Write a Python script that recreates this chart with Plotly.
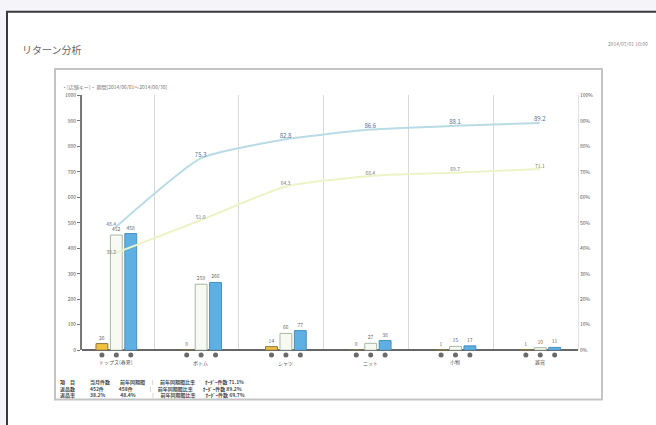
import plotly.graph_objects as go

W, H = 656, 425

categories = ["トップス(春夏)", "ボトム", "シャツ", "ニット", "小物", "雑貨"]
prev_qty = [26, 0, 14, 0, 1, 1]
return_qty = [452, 259, 66, 27, 15, 10]
order_qty = [458, 266, 77, 38, 17, 11]
cum_ratio_a = [48.4, 75.3, 82.8, 86.6, 88.1, 89.2]
cum_ratio_b = [38.2, 51.0, 64.3, 68.4, 69.7, 71.1]
left_ticks = [0, 100, 200, 300, 400, 500, 600, 700, 800, 900, 1000]
right_ticks = [0, 10, 20, 30, 40, 50, 60, 70, 80, 90, 100]

FONT = "Noto Sans CJK JP"
xs = list(range(len(categories)))

fig = go.Figure()

icon_y = (H - 357) / H
bar_specs = [
    (prev_qty, "#f0c040", "#8a7a40", -0.235),
    (return_qty, "#f6faf2", "#a8b8a0", -0.065),
    (order_qty, "#5fb0e2", "#4a8fbf", 0.105),
]
for vals, fill, edge, off in bar_specs:
    fig.add_trace(go.Bar(
        x=xs, y=vals, width=0.14, offset=off,
        marker=dict(color=fill, line=dict(color=edge, width=1)),
        text=[str(v) for v in vals], textposition="outside",
        textfont=dict(size=5, color="#666", family=FONT),
        cliponaxis=False, showlegend=False,
    ))
    # small icons under each bar
    fig.add_trace(go.Scatter(
        x=[x + off + 0.07 for x in xs], y=[icon_y] * len(xs),
        xaxis="x2", yaxis="y3",
        mode="markers", marker=dict(size=5, color="#6a6a6a"),
        cliponaxis=False, showlegend=False, hoverinfo="skip",
    ))

pos_a = ["top left"] + ["top center"] * 5
pos_b = ["middle left"] + ["top center"] * 5
fig.add_trace(go.Scatter(
    x=xs, y=cum_ratio_a, yaxis="y2", mode="lines+text",
    line=dict(color="#b9dbe6", width=2, shape="spline", smoothing=0.5),
    text=[f"{v:.1f}" for v in cum_ratio_a], textposition=pos_a,
    textfont=dict(size=[5, 6, 6, 6, 6, 6], color="#55739a", family=FONT),
    showlegend=False,
))
fig.add_trace(go.Scatter(
    x=xs, y=cum_ratio_b, yaxis="y2", mode="lines+text",
    line=dict(color="#eef3c6", width=2, shape="spline", smoothing=0.5),
    text=[f"{v:.1f}" for v in cum_ratio_b], textposition=pos_b,
    textfont=dict(size=5, color="#777", family=FONT), showlegend=False,
))

for i, c in enumerate(categories):
    fig.add_annotation(x=i, y=1 - 364 / H, xref="x", yref="paper", yanchor="middle",
                       text=c, showarrow=False,
                       font=dict(size=5, color="#555", family=FONT))

x0p, x1p = 82 / W, 578 / W
yd0, yd1 = (H - 352) / H, (H - 93) / H

fig.update_layout(
    width=W, height=H, margin=dict(l=0, r=0, t=0, b=0),
    paper_bgcolor="#f5f5f9", plot_bgcolor="rgba(0,0,0,0)",
    font=dict(family=FONT, size=6, color="#555"),
    barmode="overlay",
    xaxis=dict(domain=[x0p, x1p], range=[-0.4, 5.45],
               tickvals=[i + 0.45 for i in range(5)], showticklabels=False,
               ticks="", showgrid=True, gridcolor="#d8d8d8", gridwidth=1,
               zeroline=False, showline=False),
    xaxis2=dict(overlaying="x", range=[-0.4, 5.45], visible=False,
                showgrid=False, zeroline=False),
    yaxis=dict(domain=[yd0, yd1], range=[0, 1000], tickvals=left_ticks,
               ticktext=[str(v) for v in left_ticks], showgrid=False,
               showline=True, linecolor="#777", linewidth=2, ticks="outside",
               ticklen=3, tickcolor="#777", tickfont=dict(size=5, color="#555"),
               zeroline=True, zerolinecolor="#666", zerolinewidth=2),
    yaxis2=dict(overlaying="y", side="right", range=[0, 100], tickvals=right_ticks,
                ticktext=[f"{v}%" for v in right_ticks], showgrid=False,
                showline=True, linecolor="#e0e0e0", linewidth=1, ticks="",
                tickfont=dict(size=5, color="#555"), zeroline=False),
    yaxis3=dict(domain=[0, 1], range=[0, 1], anchor="x2", visible=False,
                showgrid=False, zeroline=False),
    shapes=[
        dict(type="rect", xref="paper", yref="paper", x0=7 / W, x1=1.02,
             y0=-0.02, y1=1 - 8 / H, fillcolor="white",
             line=dict(color="#3a3a3a", width=2), layer="below"),
        dict(type="rect", xref="paper", yref="paper", x0=55 / W, x1=602 / W,
             y0=1 - 402 / H, y1=1 - 66 / H, fillcolor="white",
             line=dict(color="#c4c4c4", width=2), layer="below"),
    ],
)

fig.add_annotation(x=20 / W, y=1 - 37 / H, xref="paper", yref="paper", xanchor="left",
                   text="リターン分析", showarrow=False,
                   font=dict(size=10, color="#666", family=FONT))
fig.add_annotation(x=650 / W, y=1 - 35 / H, xref="paper", yref="paper", xanchor="right",
                   text="2014/07/01 10:00", showarrow=False,
                   font=dict(size=5, color="#888", family=FONT))
fig.add_annotation(x=60 / W, y=1 - 78 / H, xref="paper", yref="paper", xanchor="left",
                   text="・[店舗キー]・ 期間[2014/06/01～2014/06/30]", showarrow=False,
                   font=dict(size=5, color="#777", family=FONT))

table_rows = [
    "<b>項　目　　　当月件数　　前年同期間　｜　前年同期間比率　　ｵｰﾀﾞｰ件数 71.1%</b>",
    "<b>返品数　　　452件　　　458件　　　｜　前年同期間比率　　ｵｰﾀﾞｰ件数 89.2%</b>",
    "<b>返品率　　　38.2%　　　48.4%　　　｜　前年同期間比率　　ｵｰﾀﾞｰ件数 69.7%</b>",
]
for k, row in enumerate(table_rows):
    fig.add_annotation(x=58 / W, y=1 - (384 + 7 * k) / H, xref="paper", yref="paper",
                       xanchor="left", yanchor="middle", text=row, showarrow=False,
                       font=dict(size=5, color="#4a4a4a", family=FONT))

fig.write_html("out.html")
